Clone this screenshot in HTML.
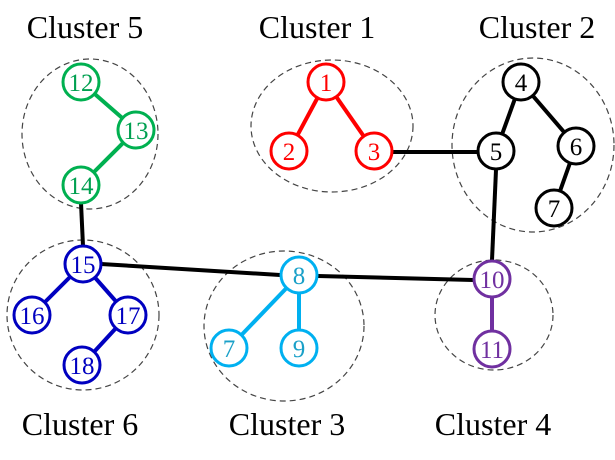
<!DOCTYPE html>
<html><head><style>body{margin:0;background:#fff}svg{display:block}text{font-family:"Liberation Serif",serif}</style></head>
<body>
<svg width="615" height="460" viewBox="0 0 615 460">
<g fill="none" stroke="#444" stroke-width="1.2" stroke-dasharray="6,4">
<ellipse cx="90" cy="134" rx="68" ry="75"/>
<ellipse cx="83" cy="315" rx="76" ry="75"/>
<ellipse cx="284" cy="326" rx="80" ry="75"/>
<ellipse cx="332" cy="126" rx="81" ry="66"/>
<ellipse cx="533" cy="145" rx="81" ry="87"/>
<ellipse cx="494" cy="315" rx="59" ry="55"/>
</g>
<g stroke-width="4" fill="none">
<g stroke="#000"><line x1="393" y1="152" x2="478" y2="152"/><line x1="496" y1="170" x2="492" y2="260"/><line x1="318" y1="276" x2="473" y2="280"/><line x1="101" y1="264" x2="280" y2="275"/><line x1="81" y1="203" x2="83" y2="246"/>
<line x1="521" y1="82" x2="496" y2="151"/><line x1="521" y1="82" x2="576" y2="146"/><line x1="576" y1="146" x2="554" y2="208"/></g>
<g stroke="#ff0000"><line x1="326" y1="82" x2="289" y2="151"/><line x1="326" y1="82" x2="374" y2="151"/></g>
<g stroke="#00b050"><line x1="81" y1="82" x2="136" y2="130"/><line x1="136" y1="130" x2="81" y2="185"/></g>
<g stroke="#0000c0"><line x1="83" y1="264" x2="32" y2="315"/><line x1="83" y1="264" x2="128" y2="315"/><line x1="128" y1="315" x2="82" y2="365"/></g>
<g stroke="#00b0f0"><line x1="299" y1="275" x2="229" y2="348"/><line x1="299" y1="275" x2="299" y2="348"/></g>
<g stroke="#7030a0"><line x1="492" y1="279" x2="492" y2="349"/></g>
</g>
<g stroke-width="3" fill="#fff">
<g stroke="#ff0000"><circle cx="326" cy="82" r="18"/><circle cx="289" cy="151" r="18"/><circle cx="374" cy="151" r="18"/></g>
<g stroke="#000"><circle cx="521" cy="82" r="18"/><circle cx="496" cy="151" r="18"/><circle cx="576" cy="146" r="18"/><circle cx="554" cy="208" r="18"/></g>
<g stroke="#00b050"><circle cx="81" cy="82" r="18"/><circle cx="136" cy="130" r="18"/><circle cx="81" cy="185" r="18"/></g>
<g stroke="#0000c0"><circle cx="83" cy="264" r="18"/><circle cx="32" cy="315" r="18"/><circle cx="128" cy="315" r="18"/><circle cx="82" cy="365" r="18"/></g>
<g stroke="#00b0f0"><circle cx="299" cy="275" r="18"/><circle cx="229" cy="348" r="18"/><circle cx="299" cy="348" r="18"/></g>
<g stroke="#7030a0"><circle cx="492" cy="279" r="18"/><circle cx="492" cy="349" r="18"/></g>
</g>
<g font-size="25" text-anchor="middle">
<g fill="#ff0000"><text x="326" y="91">1</text><text x="289" y="160">2</text><text x="374" y="160">3</text></g>
<g fill="#000"><text x="521" y="91">4</text><text x="496" y="160">5</text><text x="576" y="155">6</text><text x="554" y="217">7</text></g>
<g fill="#00a050"><text x="81" y="91">12</text><text x="136" y="139">13</text><text x="81" y="194">14</text></g>
<g fill="#0000c0"><text x="83" y="273">15</text><text x="32" y="324">16</text><text x="128" y="324">17</text><text x="82" y="374">18</text></g>
<g fill="#1aa0c8"><text x="299" y="284">8</text><text x="229" y="357">7</text><text x="299" y="357">9</text></g>
<g fill="#7030a0"><text x="492" y="288">10</text><text x="492" y="358">11</text></g>
</g>
<g font-size="32" text-anchor="middle" fill="#000">
<text x="85" y="38">Cluster 5</text><text x="317" y="38">Cluster 1</text><text x="537" y="38">Cluster 2</text>
<text x="80" y="435">Cluster 6</text><text x="287" y="435">Cluster 3</text><text x="493" y="435">Cluster 4</text>
</g>
</svg>
</body></html>
